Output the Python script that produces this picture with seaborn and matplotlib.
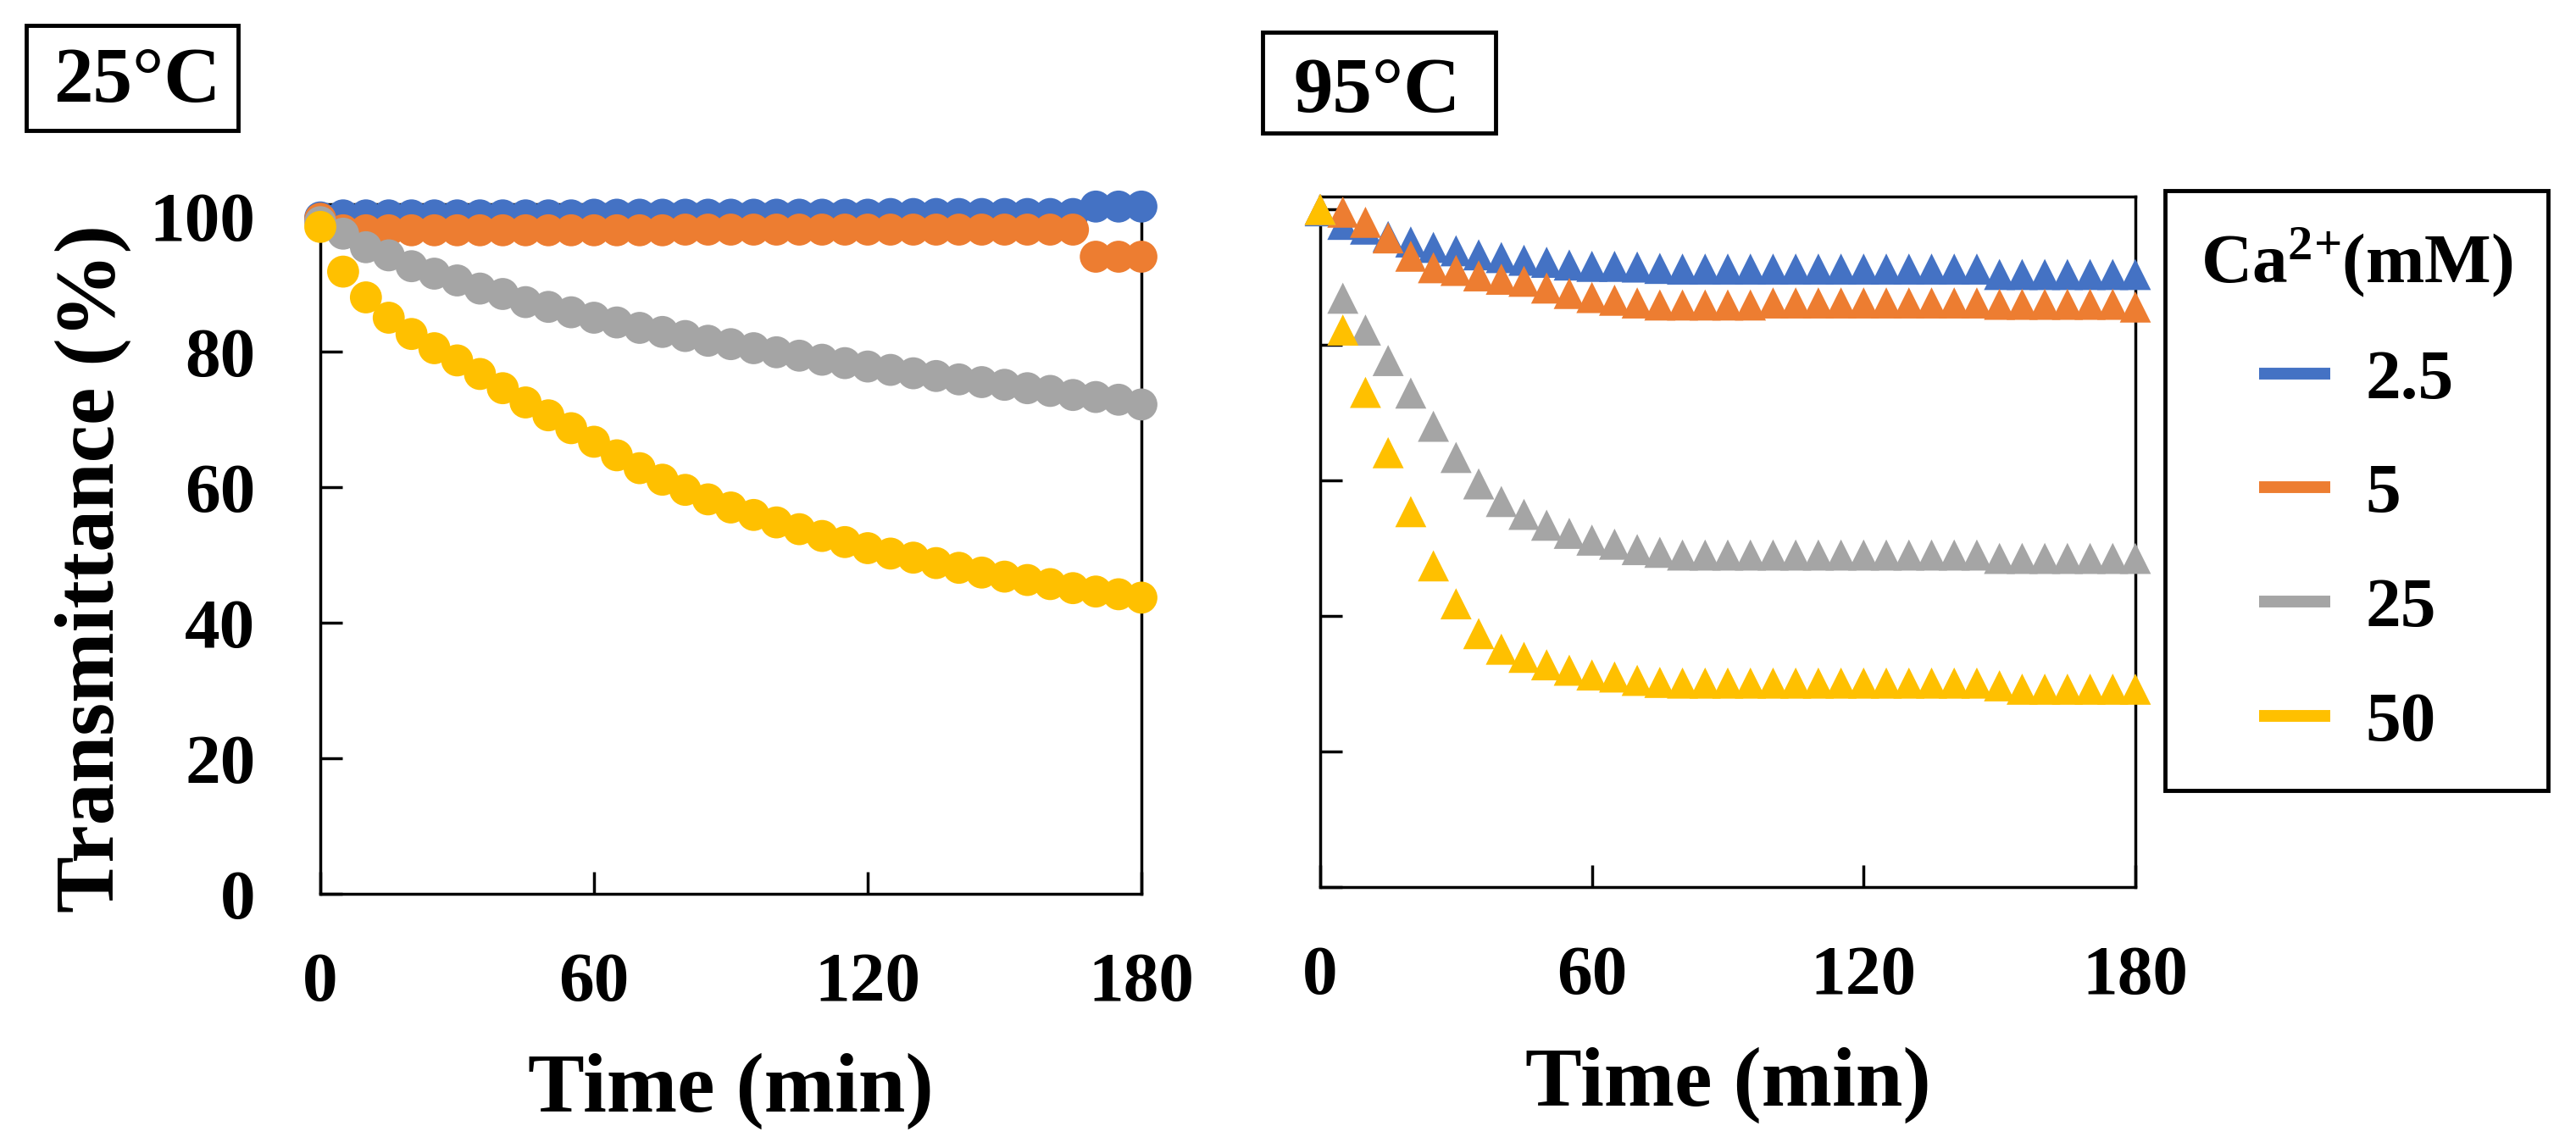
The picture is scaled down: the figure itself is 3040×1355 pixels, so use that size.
import seaborn as sns
import matplotlib.pyplot as plt
import pandas as pd
from matplotlib.lines import Line2D
from matplotlib.patches import Rectangle

# time points (min)
time = [0, 5, 10, 15, 20, 25, 30, 35, 40, 45, 50, 55, 60, 65, 70, 75, 80, 85, 90,
        95, 100, 105, 110, 115, 120, 125, 130, 135, 140, 145, 150, 155, 160, 165,
        170, 175, 180]

conc = ['2.5', '5', '25', '50']
colors = ['#4472C4', '#ED7D31', '#A5A5A5', '#FFC000']

# 25 C
t25_2_5 = [99.8, 100.1, 100.1, 100.1, 100.1, 100.1, 100.1, 100.1, 100.1, 100.1,
           100.1, 100.1, 100.2, 100.2, 100.2, 100.2, 100.2, 100.2, 100.2, 100.2,
           100.2, 100.2, 100.2, 100.2, 100.2, 100.3, 100.3, 100.3, 100.3, 100.3,
           100.3, 100.3, 100.3, 100.3, 101.4, 101.4, 101.4]
t25_5 = [99.6, 97.9, 97.9, 97.9, 97.9, 97.9, 97.9, 97.9, 97.9, 97.9, 97.9, 97.9,
         97.9, 97.9, 97.9, 97.9, 98.0, 98.0, 98.0, 98.0, 98.0, 98.0, 98.0, 98.0,
         98.0, 98.0, 98.0, 98.0, 98.0, 98.0, 98.0, 98.0, 98.0, 98.0, 94.0, 94.0, 94.0]
t25_25 = [99.1, 97.4, 95.4, 94.2, 92.6, 91.5, 90.5, 89.3, 88.5, 87.3, 86.6, 85.8,
          85.0, 84.3, 83.5, 82.9, 82.3, 81.6, 81.1, 80.5, 79.9, 79.4, 78.8, 78.3,
          77.8, 77.3, 76.8, 76.4, 75.9, 75.5, 75.1, 74.6, 74.2, 73.6, 73.3, 72.9, 72.2]
t25_50 = [98.4, 91.8, 88.0, 85.0, 82.6, 80.5, 78.7, 76.7, 74.6, 72.5, 70.6, 68.7,
          66.7, 64.7, 62.8, 61.1, 59.6, 58.2, 57.0, 55.9, 54.8, 53.8, 52.8, 51.9,
          51.0, 50.2, 49.6, 48.8, 48.1, 47.4, 46.8, 46.3, 45.7, 45.1, 44.6, 44.2, 43.7]

# 95 C
t95_2_5 = [99.8, 97.8, 97.1, 96.0, 95.2, 94.4, 93.9, 93.3, 92.9, 92.5, 92.2, 91.8,
           91.6, 91.6, 91.5, 91.3, 91.2, 91.2, 91.2, 91.2, 91.2, 91.2, 91.2, 91.2,
           91.2, 91.2, 91.2, 91.2, 91.2, 91.2, 90.4, 90.4, 90.4, 90.4, 90.4, 90.4, 90.4]
t95_5 = [100.0, 99.6, 98.1, 95.8, 93.1, 91.4, 91.0, 90.2, 89.7, 89.4, 88.4, 87.6,
         87.0, 86.6, 86.2, 85.9, 85.9, 85.9, 85.9, 85.9, 86.2, 86.2, 86.2, 86.2,
         86.2, 86.2, 86.2, 86.2, 86.2, 86.2, 86.0, 86.0, 86.0, 86.0, 86.0, 86.0, 85.6]
t95_25 = [100.0, 86.9, 82.2, 77.7, 72.9, 68.0, 63.4, 59.5, 56.9, 55.0, 53.4, 52.2,
          51.2, 50.6, 49.8, 49.4, 49.0, 49.0, 49.0, 49.0, 49.0, 49.0, 49.0, 49.0,
          49.0, 49.0, 49.0, 49.0, 49.0, 49.0, 48.5, 48.5, 48.5, 48.5, 48.5, 48.5, 48.5]
t95_50 = [100.0, 82.2, 73.0, 64.1, 55.4, 47.4, 41.8, 37.4, 35.1, 33.9, 32.8, 32.0,
          31.3, 31.0, 30.5, 30.2, 30.1, 30.1, 30.1, 30.1, 30.1, 30.1, 30.1, 30.1,
          30.1, 30.1, 30.1, 30.1, 30.1, 30.1, 29.7, 29.2, 29.2, 29.2, 29.2, 29.2, 29.2]


def long_df(series):
    rows = []
    for c, vals in zip(conc, series):
        for t, v in zip(time, vals):
            rows.append({'time': t, 'value': v, 'conc': c})
    return pd.DataFrame(rows)


df25 = long_df([t25_2_5, t25_5, t25_25, t25_50])
df95 = long_df([t95_2_5, t95_5, t95_25, t95_50])

sns.set_style('white')
plt.rcParams['font.family'] = ['Liberation Serif', 'DejaVu Serif']
plt.rcParams['font.weight'] = 'bold'
plt.rcParams['text.color'] = 'black'
plt.rcParams['axes.labelcolor'] = 'black'
plt.rcParams['xtick.color'] = 'black'
plt.rcParams['ytick.color'] = 'black'
plt.rcParams['mathtext.fontset'] = 'custom'
plt.rcParams['mathtext.rm'] = 'Liberation Serif:bold'
plt.rcParams['mathtext.bf'] = 'Liberation Serif:bold'
plt.rcParams['mathtext.it'] = 'Liberation Serif:bold'

W, H = 3040, 1355
fig = plt.figure(figsize=(W / 100, H / 100), dpi=100)
ax1 = fig.add_axes([378 / W, 1 - 1055 / H, 969 / W, 814 / H])
ax2 = fig.add_axes([1558 / W, 1 - 1047 / H, 962 / W, 815 / H])

pal = dict(zip(conc, colors))
sns.scatterplot(data=df25, x='time', y='value', hue='conc', palette=pal, marker='o',
                s=740, linewidth=0, legend=False, ax=ax1, clip_on=False, zorder=3)
sns.scatterplot(data=df95, x='time', y='value', hue='conc', palette=pal, marker='^',
                s=700, linewidth=0, legend=False, ax=ax2, clip_on=False, zorder=3)

for ax, top in [(ax1, 101.75), (ax2, 101.9)]:
    ax.set_xlim(0, 180)
    ax.set_ylim(0, top)
    ax.set_xticks([0, 60, 120, 180])
    ax.set_yticks([0, 20, 40, 60, 80, 100])
    for sp in ax.spines.values():
        sp.set_visible(True)
        sp.set_color('black')
        sp.set_linewidth(2.5)
    ax.tick_params(axis='both', direction='in', length=19, width=2.5,
                   labelsize=60, color='black', labelcolor='black',
                   bottom=True, left=True, top=False, right=False)
    ax.tick_params(axis='x', pad=50)
    ax.tick_params(axis='y', pad=55)
    ax.set_xlabel('Time (min)', fontsize=72, fontweight='bold', color='black')
    ax.xaxis.set_label_coords(0.5, -0.231)
    ax.xaxis.label.set_va('top')
    ax.set_ylabel('')

ax2.tick_params(axis='y', labelleft=False)

fig.text(110 / W, 1 - 671 / H, 'Transmittance (%)', rotation=90, ha='center',
         va='center', fontsize=72, fontweight='bold', color='black')

# panel titles in boxes
fig.patches.append(Rectangle((31 / W, 1 - 154 / H), 250 / W, 124 / H, fill=False,
                             edgecolor='black', linewidth=3.5, transform=fig.transFigure))
fig.text(162 / W, 1 - 120 / H, '25°C', ha='center', va='baseline', fontsize=67,
         fontweight='bold', color='black')
fig.patches.append(Rectangle((1490 / W, 1 - 157 / H), 275 / W, 119 / H, fill=False,
                             edgecolor='black', linewidth=3.5, transform=fig.transFigure))
fig.text(1625 / W, 1 - 132 / H, '95°C', ha='center', va='baseline', fontsize=67,
         fontweight='bold', color='black')

handles = [Line2D([0], [0], color=c, linewidth=10, solid_capstyle='butt') for c in colors]
leg = fig.legend(handles, conc, loc='upper left', bbox_to_anchor=(2555 / W, 1 - 225 / H),
                 borderaxespad=0, frameon=True, fancybox=False, framealpha=1,
                 edgecolor='black', fontsize=60, title=r'Ca$^{2\!+}\!$(mM)',
                 title_fontproperties={'size': 60, 'weight': 'bold'},
                 handlelength=1.0, handletextpad=0.5, labelspacing=0.7, borderpad=0.5)
leg.get_frame().set_linewidth(3.5)

fig.savefig('out.png', dpi=100)
plt.close(fig)
